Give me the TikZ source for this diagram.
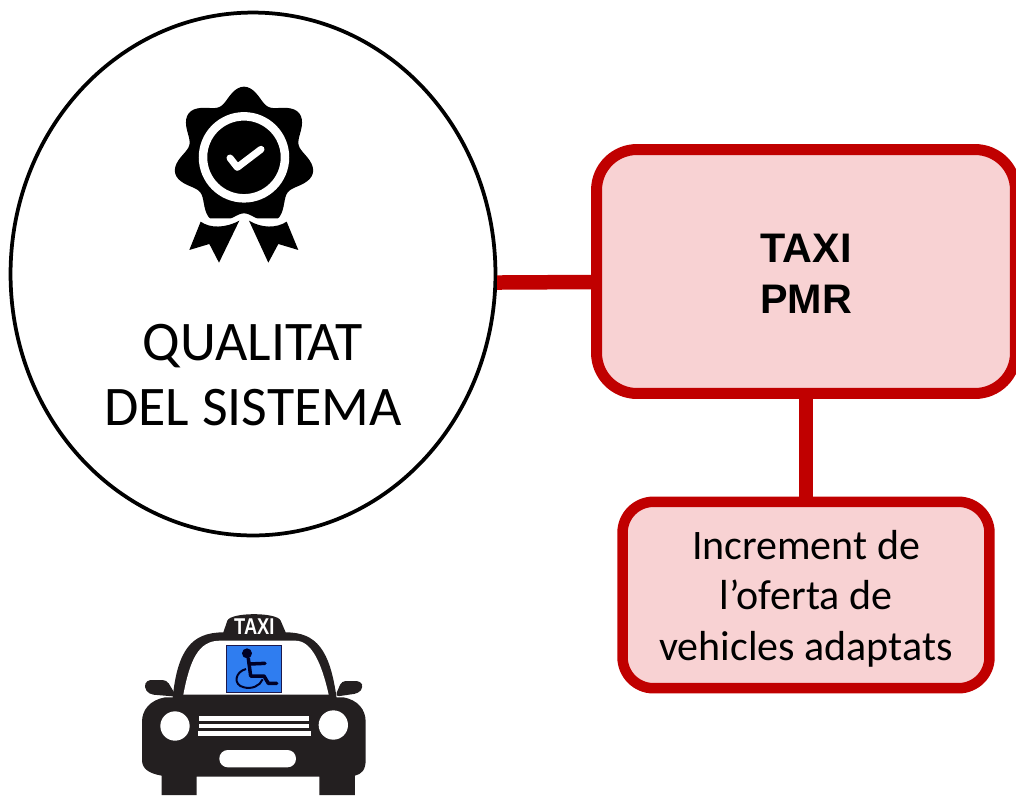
\documentclass[tikz,border=0pt]{standalone}
\usepackage{fontspec}
\setmainfont{Carlito}
\newfontfamily\arialfont{Liberation Sans}
\usetikzlibrary{shapes.geometric}
\definecolor{darkred}{HTML}{C00000}
\definecolor{palered}{HTML}{F8D2D3}
\definecolor{signblue}{HTML}{2F7DF0}
\definecolor{carblack}{HTML}{231F20}

\begin{document}
\begin{tikzpicture}[x=0.02cm,y=-0.02cm,
  bigbox/.style = {shape=rectangle, rounded corners=0.81cm, draw=darkred, fill=palered,
    line width=0.22cm, align=center, minimum width=8.38cm, minimum height=4.88cm},
  smallbox/.style = {shape=rectangle, rounded corners=0.62cm, draw=darkred, fill=palered,
    line width=0.21cm, align=center, minimum width=7.34cm, minimum height=3.73cm},
  link/.style = {draw=darkred, line width=0.29cm},
  iconzoom/.style = {x=0.00667cm, y=-0.00667cm}]
  \useasboundingbox (0,0) rectangle (1016,795);

  \node[shape=ellipse, draw, line width=0.075cm, minimum width=9.7cm, minimum height=10.46cm,
    inner sep=0pt] (qualitat) at (253,274) {};
  \node[align=center, font=\fontsize{31.8}{36.9}\selectfont] (qualitattext) at (253,375)
    {QUALITAT\\DEL SISTEMA};
  \node[bigbox, font=\arialfont\bfseries\fontsize{23.5}{29}\selectfont] (taxi) at (806,271.5)
    {\rule{0pt}{19.1pt}TAXI\\PMR};
  \node[smallbox, font=\fontsize{23.9}{28.7}\selectfont] (oferta) at (806,595)
    {\rule{0pt}{20.7pt}Increment de\\l’oferta de\\vehicles adaptats};

  \draw[link] (qualitat.-2.6) -- ([yshift=-0.21cm]taxi.west);
  \draw[link] (taxi.south) -- (oferta.north);

  % medal
  \begin{scope}[shift={(150,70)},iconzoom]
    \fill (282,262) plot[domain=0:360,samples=141,smooth]
      ({282+(190+22*cos(7*(\x-90)))*cos(\x)},{262-(190+22*cos(7*(\x-90)))*sin(\x)}) -- cycle;
    \draw[white,line width=0.17cm] (282,262) circle[radius=123];
    \draw[white,line width=0.14cm,line cap=round,line join=round]
      (240,264) -- (262,292) -- (333,238);
    \fill[white] (130,425) .. controls (170,470) and (225,470) .. (282,435)
      .. controls (335,470) and (390,470) .. (430,425) -- (430,445) -- (130,445) -- cycle;
    \fill (152,455) .. controls (180,475) and (225,475) .. (268,452) -- (207,578)
      -- (178,522) -- (118,540) -- cycle;
    \fill (297,452) .. controls (335,475) and (380,475) .. (410,455) -- (445,540)
      -- (385,522) -- (355,578) -- cycle;
  \end{scope}

  % taxi
  \begin{scope}[shift={(120,600)},iconzoom]
    \fill[carblack] (158,295) .. controls (172,150) and (215,97) .. (310,97)
      -- (322,62) .. controls (332,36) and (472,36) .. (482,62) -- (497,97)
      .. controls (590,97) and (630,150) .. (650,295) -- cycle;
    \fill[white] (190,284) .. controls (210,180) and (235,122) .. (300,122)
      -- (526,122) .. controls (575,122) and (605,190) .. (626,284) -- cycle;
    \fill[carblack,rounded corners=0.08cm] (170,290) -- (140,240) -- (80,240)
      -- (72,262) -- (88,283) -- cycle;
    \fill[carblack,rounded corners=0.08cm] (645,290) -- (665,243) -- (722,243)
      -- (730,262) -- (715,280) -- cycle;
    \fill[carblack] (135,292) -- (670,292) .. controls (715,300) and (737,330) .. (737,365)
      -- (737,480) .. controls (737,510) and (725,522) .. (705,527) -- (705,585)
      -- (598,585) -- (598,530) -- (230,530) -- (230,585) -- (125,585) -- (125,527)
      .. controls (85,520) and (66,505) .. (66,480) -- (66,365)
      .. controls (66,330) and (90,300) .. (135,292) -- cycle;
    \fill[white] (165,378) circle[radius=44];
    \fill[white] (640,375) circle[radius=44];
    \fill[white] (237,349) rectangle (568,362);
    \fill[white] (237,372) rectangle (568,385);
    \fill[white] (235,392) rectangle (572,408);
    \fill[white,rounded corners=0.17cm] (298,450) rectangle (528,502);
    \node[text=white, font=\arialfont\bfseries\fontsize{13}{13}\selectfont, inner sep=0pt, xscale=0.8]
      (taxisign) at (403,79) {TAXI};
    \filldraw[fill=signblue,draw=carblack!80!blue,line width=0.03cm] (319,136) rectangle (484,277);
    \fill[black!85!blue] (381,160) circle[radius=15];
    \draw[black!85!blue,line width=0.07cm,line cap=round,line join=round]
      (385,175) -- (392,228) -- (432,228) -- (445,250) -- (470,250);
    \draw[black!85!blue,line width=0.07cm,line cap=round] (388,192) -- (435,190);
    \draw[black!85!blue,line width=0.04cm] (378,207) .. controls (345,215) and (338,255) .. (372,262)
      .. controls (395,268) and (420,258) .. (428,238);
  \end{scope}
\end{tikzpicture}
\end{document}
